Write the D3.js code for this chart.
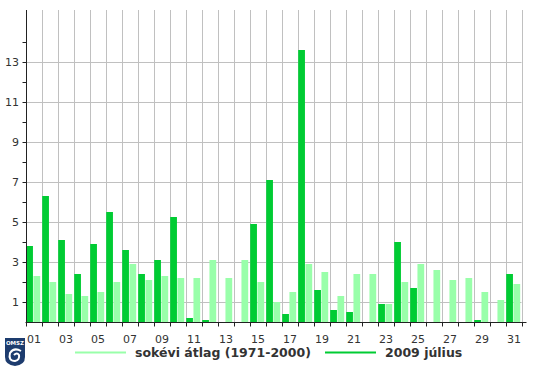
<!DOCTYPE html>
<html>
<head>
<meta charset="utf-8">
<script src="https://cdn.jsdelivr.net/npm/d3@7"></script>
<style>
  body { margin: 0; background: #fff; }
  svg { display: block; }
</style>
</head>
<body>
<svg id="svgRoot" width="536" height="372"></svg>
<script>
// napi csapadék / ertekek a kepről leolvasva
const days = d3.range(1, 32)
const dayLabels = days.map((d) => (d < 10 ? "0" + d : "" + d))
const july2009 = [3.8, 6.3, 4.1, 2.4, 3.9, 5.5, 3.6, 2.4, 3.1, 5.25,
  0.2, 0.1, 0, 0, 4.9, 7.1, 0.4, 13.6, 1.6, 0.6,
  0.5, 0, 0.9, 4.0, 1.7, 0, 0, 0, 0.1, 0, 2.4]
const avg7100 = [2.3, 2.0, 1.4, 1.3, 1.5, 2.0, 2.9, 2.1, 2.3, 2.2,
  2.2, 3.1, 2.2, 3.1, 2.0, 1.0, 1.5, 2.9, 2.5, 1.3,
  2.4, 2.4, 0.9, 2.0, 2.9, 2.6, 2.1, 2.2, 1.5, 1.1, 1.9]
const yTicks = d3.range(1, 15)
const yLabels = [1, 3, 5, 7, 9, 11, 13]
const seriesNames = ["sokévi átlag (1971-2000)", "2009 július"]
const seriesColors = ["#99ffaa", "#00cc33"]

let svg = d3.select("#svgRoot")

const margin = { top: 10, left: 25.5, bottom: 50, right: 14.5 }
const width = 536
const height = 372

let scale_x = d3.scaleBand()
  .domain(days)
  .range([margin.left, width - margin.right])

let scale_inner = d3.scaleBand()
  .domain(["2009", "avg"])
  .range([0.7, scale_x.bandwidth() - 1.3])
  .paddingInner(0.07)

let scale_y = d3.scaleLinear()
  .domain([0, 15.6])
  .range([height - margin.bottom, margin.top])

let g_grid = svg.append("g").attr("class", "g_grid")
let g_bars = svg.append("g").attr("class", "g_bars")
let g_axis = svg.append("g").attr("class", "g_axis")
let g_legend = svg.append("g").attr("class", "g_legend")

const y0 = scale_y(0)
const xRight = scale_x(31) + scale_x.bandwidth()

// vizszintes racs
g_grid.selectAll(".hgrid").data(yLabels).enter().append("line")
  .attr("x1", margin.left).attr("x2", xRight)
  .attr("y1", (d) => Math.round(scale_y(d)) + 0.5)
  .attr("y2", (d) => Math.round(scale_y(d)) + 0.5)
  .attr("stroke", "#c0c0c0")

// fuggoleges racs
g_grid.selectAll(".vgrid").data(days).enter().append("line")
  .attr("x1", (d) => Math.round(scale_x(d) + scale_x.bandwidth()) + 0.5)
  .attr("x2", (d) => Math.round(scale_x(d) + scale_x.bandwidth()) + 0.5)
  .attr("y1", margin.top).attr("y2", y0)
  .attr("stroke", "#c0c0c0")

// oszlopok
g_bars.selectAll(".bar_avg").data(avg7100).enter().append("rect")
  .attr("x", (d, i) => scale_x(days[i]) + scale_inner("avg"))
  .attr("width", scale_inner.bandwidth())
  .attr("y", (d) => scale_y(d))
  .attr("height", (d) => y0 - scale_y(d))
  .attr("fill", seriesColors[0])

g_bars.selectAll(".bar_2009").data(july2009).enter().append("rect")
  .attr("x", (d, i) => scale_x(days[i]) + scale_inner("2009"))
  .attr("width", scale_inner.bandwidth())
  .attr("y", (d) => scale_y(d))
  .attr("height", (d) => y0 - scale_y(d))
  .attr("fill", seriesColors[1])

// tengelyek
const axisColor = "#222"
const yb = Math.round(y0) + 0.5
const xl = Math.round(margin.left) + 0.5
g_axis.append("line")
  .attr("x1", xl).attr("x2", xl)
  .attr("y1", margin.top).attr("y2", yb)
  .attr("stroke", axisColor)
g_axis.append("line")
  .attr("x1", xl - 1).attr("x2", xRight + 5)
  .attr("y1", yb).attr("y2", yb)
  .attr("stroke", axisColor)

g_axis.selectAll(".ytick").data(yTicks).enter().append("line")
  .attr("x1", xl - 4).attr("x2", xl)
  .attr("y1", (d) => Math.round(scale_y(d)) + 0.5)
  .attr("y2", (d) => Math.round(scale_y(d)) + 0.5)
  .attr("stroke", axisColor)

g_axis.selectAll(".ylabel").data(yLabels).enter().append("text")
  .attr("x", 19)
  .attr("y", (d) => scale_y(d) + 4)
  .attr("text-anchor", "end")
  .attr("font-family", "DejaVu Sans, Verdana, sans-serif")
  .attr("font-size", "11px")
  .attr("fill", "#333")
  .text((d) => d)

g_axis.selectAll(".xtick").data([0].concat(days)).enter().append("line")
  .attr("x1", (d) => Math.round(d === 0 ? margin.left : scale_x(d) + scale_x.bandwidth()) + 0.5)
  .attr("x2", (d) => Math.round(d === 0 ? margin.left : scale_x(d) + scale_x.bandwidth()) + 0.5)
  .attr("y1", yb).attr("y2", yb + 4)
  .attr("stroke", axisColor)

g_axis.selectAll(".xlabel").data(days.filter((d) => d % 2 === 1)).enter().append("text")
  .attr("x", (d) => scale_x(d) + scale_x.bandwidth() / 2 + 0.5)
  .attr("y", yb + 20)
  .attr("text-anchor", "middle")
  .attr("font-family", "DejaVu Sans, Verdana, sans-serif")
  .attr("font-size", "11px")
  .attr("fill", "#333")
  .text((d) => dayLabels[d - 1])

// jelmagyarazat
const legendX = [75, 325]
seriesNames.forEach((name, i) => {
  g_legend.append("line")
    .attr("x1", legendX[i]).attr("x2", legendX[i] + 51)
    .attr("y1", 352.5).attr("y2", 352.5)
    .attr("stroke", seriesColors[i])
    .attr("stroke-width", 2)
  g_legend.append("text")
    .attr("x", legendX[i] + 60)
    .attr("y", 357)
    .attr("font-family", "DejaVu Sans, Verdana, sans-serif")
    .attr("font-weight", "bold")
    .attr("font-size", "12.5px")
    .attr("fill", "#333")
    .text(name)
})

// OMSZ logo
let logo = svg.append("g").attr("transform", "translate(5,338)")
logo.append("path")
  .attr("d", "M0,0 H20 V19 Q20,27 10,28 Q0,27 0,19 Z")
  .attr("fill", "#1d3c6e")
logo.append("text")
  .attr("x", 10).attr("y", 7)
  .attr("text-anchor", "middle")
  .attr("font-family", "DejaVu Sans, sans-serif")
  .attr("font-size", "5.5px")
  .attr("font-weight", "bold")
  .attr("fill", "#fff")
  .text("OMSZ")
logo.append("path")
  .attr("d", "M16,13 Q9,9 5,15 Q3,23 10,23 Q15,22 14,17 Q12,14 9,17")
  .attr("fill", "none")
  .attr("stroke", "#fff")
  .attr("stroke-width", 2)
</script>
</body>
</html>
